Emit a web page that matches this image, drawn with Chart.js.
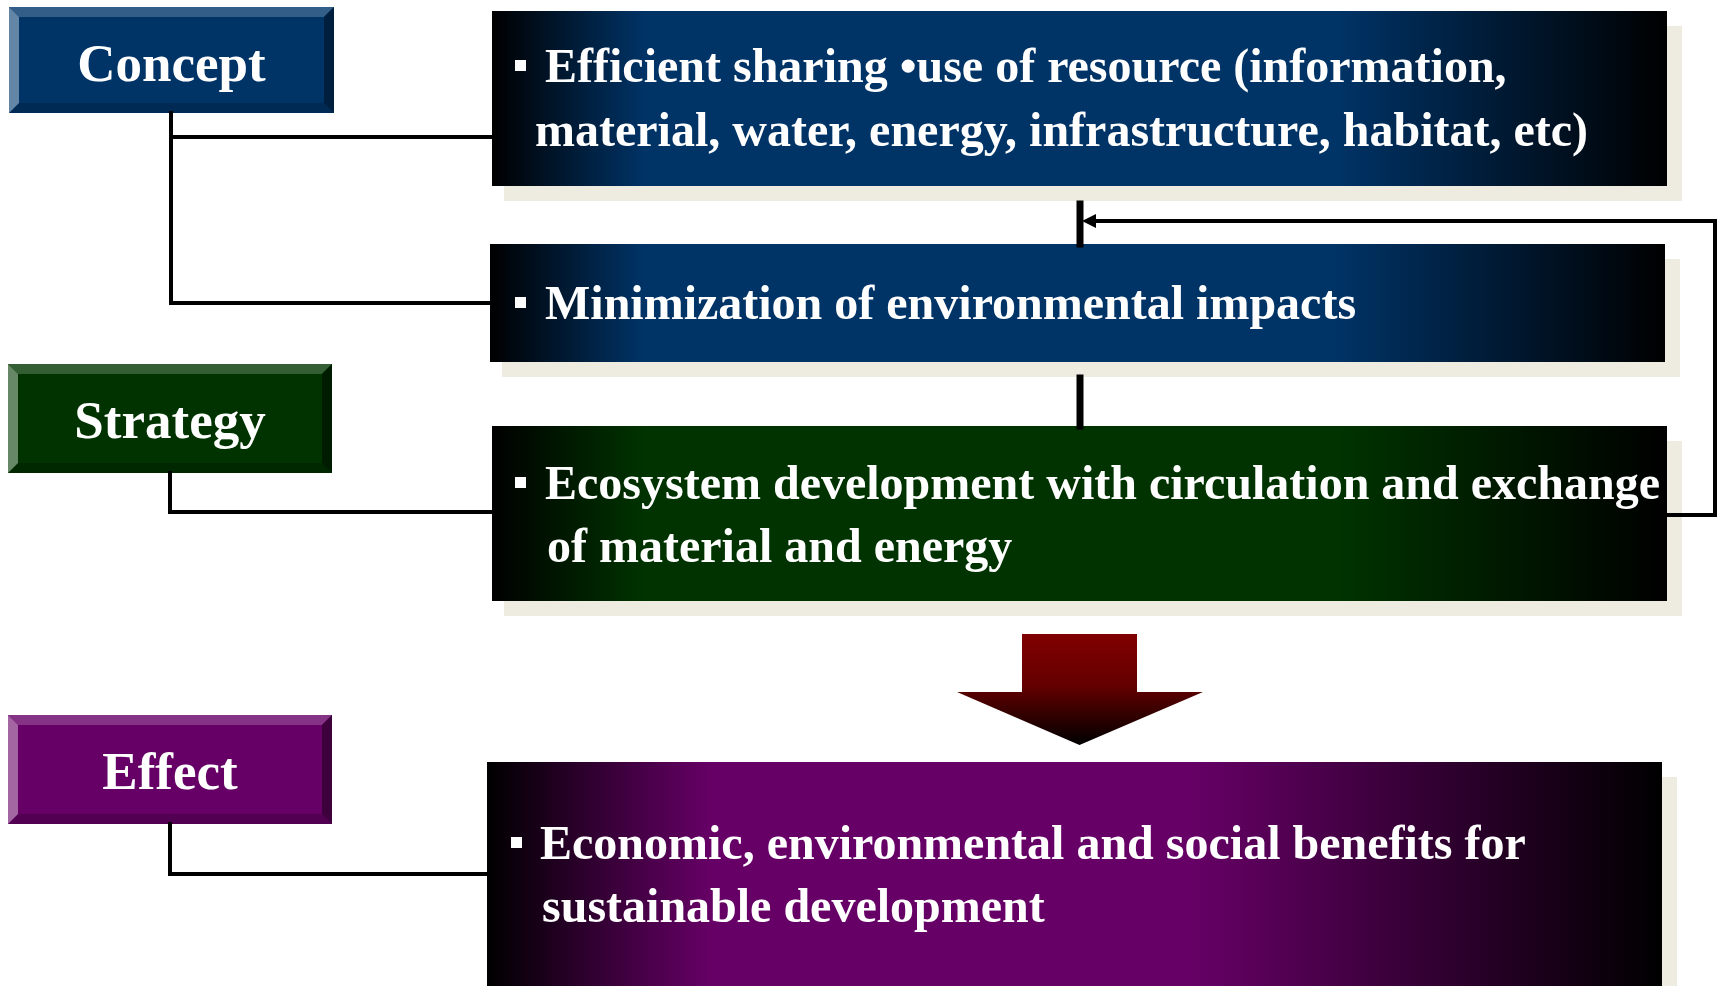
<!DOCTYPE html>
<html lang="en">
<head>
<meta charset="UTF-8">
<title>Concept - Strategy - Effect</title>
<script src="https://cdn.jsdelivr.net/npm/chart.js"></script>
<style>
  html, body { margin: 0; padding: 0; background: #fff; overflow: hidden; }
  #wrap { width: 1719px; height: 986px; }
</style>
</head>
<body>
<div id="wrap"><canvas id="diagram"></canvas></div>
<script>
// --- content ---
const stages = ['Concept', 'Strategy', 'Effect'];
const itemLines = [
  ['Efficient sharing \u2022use of resource (information,', 'material, water, energy, infrastructure, habitat, etc)'],
  ['Minimization of environmental impacts'],
  ['Ecosystem development with circulation and exchange', 'of material and energy'],
  ['Economic, environmental and social benefits for', 'sustainable development']
];

// --- layout (diagram units, 1719 x 986) ---
const layout = {
  buttons: [
    { x0: 9, y0: 7, x1: 334, y1: 113, base: 81 },
    { x0: 8, y0: 364, x1: 332, y1: 473, base: 438 },
    { x0: 8, y0: 715, x1: 332, y1: 824, base: 789 }
  ],
  boxes: [
    { x0: 492, y0: 11, x1: 1667, y1: 186, bullet: 515, text: [545, 535], base: [82, 146] },
    { x0: 490, y0: 244, x1: 1665, y1: 362, bullet: 515, text: [545], base: [319] },
    { x0: 492, y0: 426, x1: 1667, y1: 601, bullet: 515, text: [545, 547], base: [499, 562] },
    { x0: 487, y0: 762, x1: 1662, y1: 1010, bullet: 511, text: [540, 542], base: [859, 922] }
  ],
  shadow: 15,
  arrow: { sx0: 1022, sx1: 1137, y0: 634, yh: 692, hx0: 957, hx1: 1203, tip: 745 }
};

const buttonStyle = [
  { face: '#003366', top: '#335e87', left: '#6486a6', right: '#001f3e', bottom: '#002a54' },
  { face: '#003300', top: '#345e34', left: '#668866', right: '#001c00', bottom: '#002800' },
  { face: '#660066', top: '#853385', left: '#a366a3', right: '#3d003d', bottom: '#520052' }
];
const boxGradient = [
  [[0, '#000000'], [0.13, '#003366'], [0.72, '#003366'], [1, '#000000']],
  [[0, '#000000'], [0.13, '#003366'], [0.72, '#003366'], [1, '#000000']],
  [[0, '#000000'], [0.13, '#003300'], [0.72, '#003300'], [1, '#000000']],
  [[0, '#000000'], [0.19, '#660066'], [0.6, '#660066'], [1, '#000000']]
];

// connector polylines
const links = [
  { pts: [[171, 113], [171, 303], [490, 303]], w: 4 },
  { pts: [[171, 137], [492, 137]], w: 4 },
  { pts: [[170, 473], [170, 512], [492, 512]], w: 4 },
  { pts: [[170, 824], [170, 874], [487, 874]], w: 4 },
  { pts: [[1080, 204], [1080, 244]], w: 7 },
  { pts: [[1080, 378], [1080, 426]], w: 7 },
  { pts: [[1667, 515], [1715, 515], [1715, 221], [1090, 221]], w: 4 }
];

const serif = '"Liberation Serif", "Times New Roman", serif';

const diagramPlugin = {
  id: 'diagram',
  beforeDatasetsDraw(chart) {
    const ctx = chart.ctx;
    const X = v => chart.scales.x.getPixelForValue(v);
    const Y = v => chart.scales.y.getPixelForValue(v);
    ctx.save();
    // description boxes with offset shadow
    layout.boxes.forEach((b, i) => {
      const s = layout.shadow;
      ctx.fillStyle = '#eeebe0';
      ctx.fillRect(X(b.x0 + s - 3), Y(b.y0 + s), X(b.x1 + s) - X(b.x0 + s - 3), Y(b.y1 + s) - Y(b.y0 + s));
      const g = ctx.createLinearGradient(X(b.x0), 0, X(b.x1), 0);
      boxGradient[i].forEach(st => g.addColorStop(st[0], st[1]));
      ctx.fillStyle = g;
      ctx.fillRect(X(b.x0), Y(b.y0), X(b.x1) - X(b.x0), Y(b.y1) - Y(b.y0));
    });
    // bevelled stage buttons
    layout.buttons.forEach((b, i) => {
      const st = buttonStyle[i], e = 10;
      const x0 = X(b.x0), x1 = X(b.x1), y0 = Y(b.y0), y1 = Y(b.y1);
      const poly = (pts, c) => {
        ctx.fillStyle = c;
        ctx.beginPath();
        pts.forEach((p, k) => k ? ctx.lineTo(p[0], p[1]) : ctx.moveTo(p[0], p[1]));
        ctx.closePath();
        ctx.fill();
      };
      ctx.fillStyle = st.face;
      ctx.fillRect(x0, y0, x1 - x0, y1 - y0);
      poly([[x0, y0], [x1, y0], [x1 - e, y0 + e], [x0 + e, y0 + e]], st.top);
      poly([[x0, y1], [x1, y1], [x1 - e, y1 - e], [x0 + e, y1 - e]], st.bottom);
      poly([[x0, y0], [x0 + e, y0 + e], [x0 + e, y1 - e], [x0, y1]], st.left);
      poly([[x1, y0], [x1, y1], [x1 - e, y1 - e], [x1 - e, y0 + e]], st.right);
    });
    // big down arrow
    const a = layout.arrow;
    const ag = ctx.createLinearGradient(0, Y(a.y0), 0, Y(a.tip));
    ag.addColorStop(0, '#800000');
    ag.addColorStop(0.45, '#660000');
    ag.addColorStop(1, '#000000');
    ctx.fillStyle = ag;
    ctx.beginPath();
    ctx.moveTo(X(a.sx0), Y(a.y0));
    ctx.lineTo(X(a.sx1), Y(a.y0));
    ctx.lineTo(X(a.sx1), Y(a.yh));
    ctx.lineTo(X(a.hx1), Y(a.yh));
    ctx.lineTo(X((a.sx0 + a.sx1) / 2), Y(a.tip));
    ctx.lineTo(X(a.hx0), Y(a.yh));
    ctx.lineTo(X(a.sx0), Y(a.yh));
    ctx.closePath();
    ctx.fill();
    ctx.restore();
  },
  afterDatasetsDraw(chart) {
    const ctx = chart.ctx;
    const X = v => chart.scales.x.getPixelForValue(v);
    const Y = v => chart.scales.y.getPixelForValue(v);
    ctx.save();
    // feedback arrowhead
    ctx.fillStyle = '#000';
    ctx.beginPath();
    ctx.moveTo(X(1082), Y(221));
    ctx.lineTo(X(1096), Y(214));
    ctx.lineTo(X(1096), Y(228));
    ctx.closePath();
    ctx.fill();
    // stage labels
    ctx.fillStyle = '#fff';
    ctx.textAlign = 'center';
    ctx.textBaseline = 'alphabetic';
    ctx.font = 'bold 53px ' + serif;
    layout.buttons.forEach((b, i) => {
      ctx.fillText(stages[i], X((b.x0 + b.x1) / 2), Y(b.base));
    });
    // box texts
    ctx.textAlign = 'left';
    ctx.font = 'bold 48px ' + serif;
    layout.boxes.forEach((b, i) => {
      ctx.fillRect(X(b.bullet), Y(b.base[0] - 22), 11, 11);
      itemLines[i].forEach((line, k) => {
        ctx.fillText(line, X(b.text[k]), Y(b.base[k]));
      });
    });
    ctx.restore();
  }
};

new Chart(document.getElementById('diagram'), {
  type: 'scatter',
  data: {
    datasets: links.map(l => ({
      data: l.pts.map(p => ({ x: p[0], y: p[1] })),
      showLine: true,
      borderColor: '#000000',
      borderWidth: l.w,
      pointRadius: 0,
      borderJoinStyle: 'miter',
      borderCapStyle: 'square',
      fill: false
    }))
  },
  options: {
    responsive: true,
    maintainAspectRatio: false,
    animation: false,
    layout: { padding: 0 },
    scales: {
      x: { type: 'linear', min: 0, max: 1719, display: false },
      y: { type: 'linear', min: 0, max: 986, reverse: true, display: false }
    },
    plugins: { legend: { display: false }, tooltip: { enabled: false } }
  },
  plugins: [diagramPlugin]
});
</script>
</body>
</html>
